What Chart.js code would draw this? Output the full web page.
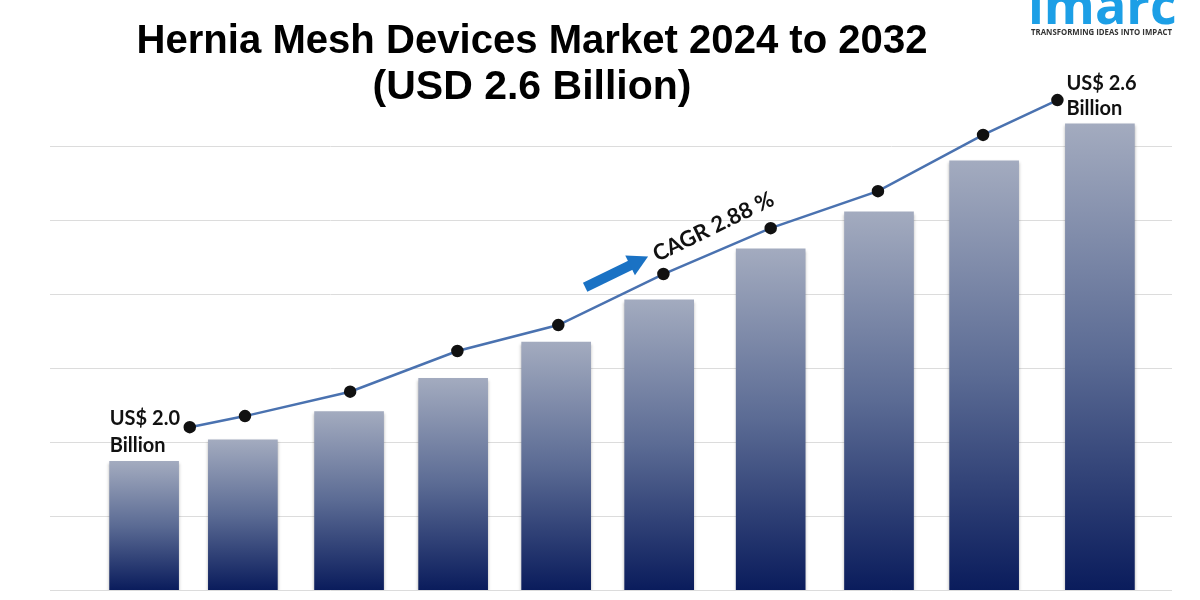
<!DOCTYPE html>
<html>
<head>
<meta charset="utf-8">
<script src="https://cdn.jsdelivr.net/npm/chart.js@4.4.1/dist/chart.umd.min.js"></script>
<style>
  body { margin: 0; background: #fff; }
  #wrap { position: relative; width: 1200px; height: 600px; }
</style>
</head>
<body>
<div id="wrap"><canvas id="marketChart"></canvas></div>
<script>
// values (axis units are arbitrary, the axis is hidden)
var years = ['2023', '2024', '2025', '2026', '2027', '2028', '2029', '2030', '2031', '2032'];
var barX = [0.0, 0.93, 1.93, 2.91, 3.88, 4.85, 5.9, 6.92, 7.91, 9.0];
var barValues = [1.74, 2.03, 2.41, 2.86, 3.35, 3.92, 4.61, 5.11, 5.80, 6.30];
var trendX = [0.43, 0.95, 1.94, 2.95, 3.9, 4.89, 5.9, 6.91, 7.9, 8.6];
var trendValues = [2.20, 2.35, 2.68, 3.23, 3.58, 4.27, 4.89, 5.39, 6.15, 6.62];
var gridValues = [0, 1, 2, 3, 4, 5, 6];

var titleLines = ['Hernia Mesh Devices Market 2024 to 2032', '(USD 2.6 Billion)'];
var startLabel = ['US$ 2.0', 'Billion'];
var endLabel = ['US$ 2.6', 'Billion'];
var cagrText = 'CAGR 2.88 %';

var labelFont = 'bold 20px Lato, "Open Sans", sans-serif';

// grid lines run wider than the plot area
var gridPlugin = {
  id: 'wideGrid',
  beforeDatasetsDraw: function(chart) {
    var ctx = chart.ctx, y = chart.scales.y;
    ctx.save();
    ctx.strokeStyle = '#dcdcdc';
    ctx.lineWidth = 1;
    gridValues.forEach(function(v) {
      var py = Math.round(y.getPixelForValue(v)) + 0.5;
      ctx.beginPath();
      ctx.moveTo(50, py);
      ctx.lineTo(1172, py);
      ctx.stroke();
    });
    ctx.restore();
  },
  beforeDatasetDraw: function(chart, args) {
    if (args.index === 0) {
      chart.ctx.save();
      chart.ctx.shadowColor = 'rgba(0,0,0,0.3)';
      chart.ctx.shadowBlur = 3;
      chart.ctx.shadowOffsetY = 2;
    }
  },
  afterDatasetDraw: function(chart, args) {
    if (args.index === 0) chart.ctx.restore();
  }
};

var textPlugin = {
  id: 'texts',
  afterDraw: function(chart) {
    var ctx = chart.ctx;
    ctx.save();
    // title
    ctx.fillStyle = '#000';
    ctx.textAlign = 'center';
    ctx.textBaseline = 'middle';
    ctx.font = 'bold 41px "Liberation Sans", Arial, sans-serif';
    ctx.fillText(titleLines[0], 532, 42, 791);
    ctx.fillText(titleLines[1], 532, 88);

    // logo
    ctx.fillStyle = '#1c9fe6';
    ctx.textAlign = 'left';
    ctx.textBaseline = 'alphabetic';
    ctx.font = 'bold 52px "Open Sans", sans-serif';
    ctx.fillText('imarc', 1028, 24);
    ctx.fillStyle = '#333';
    ctx.font = 'bold 8px "Open Sans", sans-serif';
    ctx.fillText('TRANSFORMING IDEAS INTO IMPACT', 1031, 35, 141);

    // value labels at both ends of the line
    var pts = chart.getDatasetMeta(1).data;
    var p0 = pts[0], p9 = pts[pts.length - 1];
    ctx.fillStyle = '#111';
    ctx.font = labelFont;
    ctx.textBaseline = 'middle';
    ctx.fillText(startLabel[0], p0.x - 80, p0.y - 9);
    ctx.fillText(startLabel[1], p0.x - 80, p0.y + 18);
    ctx.fillText(endLabel[0], p9.x + 9, p9.y - 17);
    ctx.fillText(endLabel[1], p9.x + 9, p9.y + 8);

    // CAGR arrow and text, parallel to the line
    var b = pts[5];
    ctx.save();
    ctx.translate(b.x - 6, b.y - 12);
    ctx.rotate(-26 * Math.PI / 180);
    ctx.fillStyle = '#1a72c4';
    ctx.fillRect(-76, -14, 52, 10);
    ctx.beginPath();
    ctx.moveTo(-26, -20);
    ctx.lineTo(-6, -9);
    ctx.lineTo(-26, 2);
    ctx.closePath();
    ctx.fill();
    ctx.fillStyle = '#111';
    ctx.font = 'bold 22px Lato, "Open Sans", sans-serif';
    ctx.textAlign = 'left';
    ctx.textBaseline = 'alphabetic';
    ctx.fillText(cagrText, 0, 0);
    ctx.restore();

    ctx.restore();
  }
};

function barFill(c) {
  var chart = c.chart;
  if (!chart.chartArea || c.type !== 'data' || !chart.scales.y) return '#5a6a94';
  var y = chart.scales.y;
  var top = y.getPixelForValue(c.raw.y);
  var bottom = y.getPixelForValue(0);
  var g = chart.ctx.createLinearGradient(0, top, 0, bottom);
  g.addColorStop(0, '#a3abbf');
  g.addColorStop(0.5, '#5b6b94');
  g.addColorStop(1, '#0a1c5c');
  return g;
}

var ctx = document.getElementById('marketChart').getContext('2d');
var marketChart = new Chart(ctx, {
  type: 'bar',
  data: {
    labels: years,
    datasets: [{
      label: 'Market size',
      data: barValues.map(function(v, i) { return { x: barX[i], y: v }; }),
      backgroundColor: barFill,
      borderWidth: 0,
      barThickness: 69,
      grouped: false,
      order: 2
    }, {
      type: 'line',
      label: 'Trend',
      data: trendX.map(function(x, i) { return { x: x, y: trendValues[i] }; }),
      borderColor: '#4a72b0',
      borderWidth: 2.5,
      pointRadius: 5,
      pointBackgroundColor: '#111',
      pointBorderColor: '#111',
      tension: 0,
      order: 1
    }]
  },
  options: {
    responsive: true,
    maintainAspectRatio: false,
    animation: false,
    layout: { padding: { left: 91, right: 47, top: 72, bottom: 10 } },
    plugins: {
      legend: { display: false },
      tooltip: { enabled: false },
      title: { display: false }
    },
    scales: {
      x: { type: 'linear', offset: false, display: false, min: -0.5, max: 9.5 },
      y: { display: false, min: 0, max: 7 }
    }
  },
  plugins: [gridPlugin, textPlugin]
});
</script>
</body>
</html>
